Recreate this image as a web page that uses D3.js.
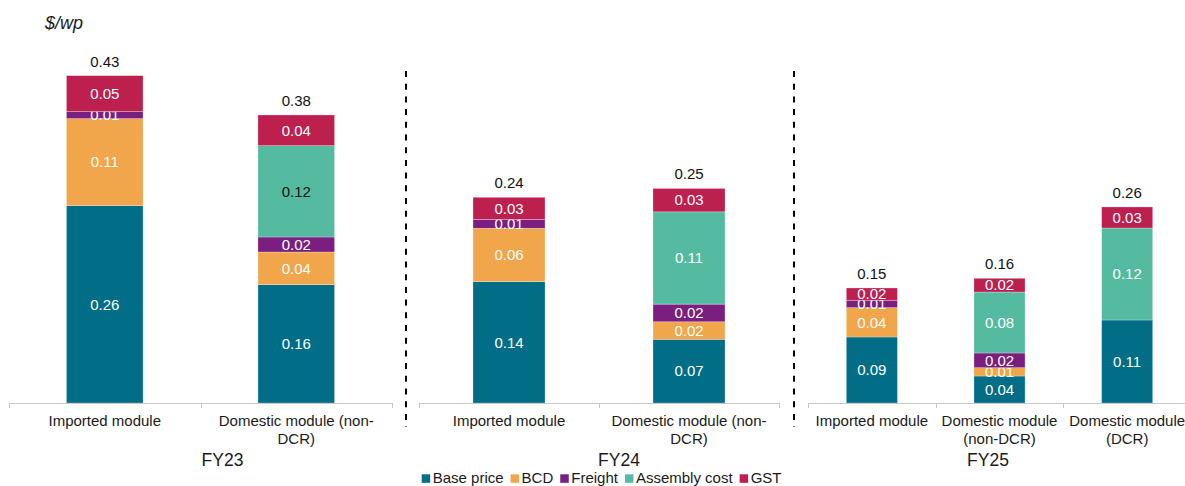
<!DOCTYPE html>
<html>
<head>
<meta charset="utf-8">
<script src="https://cdn.jsdelivr.net/npm/d3@7"></script>
<style>
  html, body { margin: 0; padding: 0; background: #fff; }
  svg { display: block; font-family: "Liberation Sans", Arial, sans-serif; }
</style>
</head>
<body>
<svg id="chart" width="1185" height="486"></svg>
<script>
// ---------------- DATA ----------------
const periods = ["FY23", "FY24", "FY25"];
const seriesNames = ["Base price", "BCD", "Freight", "Assembly cost", "GST"];
const barPeriods = ["FY23", "FY23", "FY24", "FY24", "FY25", "FY25", "FY25"];
const barCategories = [
  "Imported module", "Domestic module (non-\nDCR)",
  "Imported module", "Domestic module (non-\nDCR)",
  "Imported module", "Domestic module\n(non-DCR)", "Domestic module\n(DCR)"
];
const basePrice = [0.2590, 0.1552, 0.1415, 0.0743, 0.0866, 0.0354, 0.1089];
const bcd       = [0.1141, 0.0429, 0.0623, 0.0204, 0.0385, 0.0109, 0];
const freight   = [0.0092, 0.0197, 0.0104, 0.0206, 0.0097, 0.0193, 0];
const assembly  = [0,      0.1198, 0,      0.1076, 0,      0.0800, 0.1207];
const gst       = [0.0472, 0.0403, 0.0257, 0.0273, 0.0161, 0.0180, 0.0276];
const panelAxisMax = [0.45, 0.40, 0.45];

// ---------------- STYLE / LAYOUT ----------------
const colors = ["#016D86", "#F1A64B", "#7A1F7F", "#55BBA0", "#BD1F4F"];
const panelX = [[9, 392], [419, 779], [808, 1191]];
const baseY = 403, topY = 60;
const periodLabelX = [222.5, 619, 988];
const separatorsX = [406, 794];
const darkLabel = { bar: 1, series: 3 }; // one segment label drawn dark in source

const seriesValues = [basePrice, bcd, freight, assembly, gst];
const fmt = d3.format(".2f");
const svg = d3.select("#chart");

// y-axis unit label
svg.append("text").attr("x", 45).attr("y", 29)
  .attr("font-size", 18).attr("font-style", "italic").attr("fill", "#1a1a1a")
  .text("$/wp");

periods.forEach((p, pi) => {
  const idx = barPeriods.map((bp, i) => bp === p ? i : -1).filter(i => i >= 0);
  const x = d3.scaleBand().domain(idx).range(panelX[pi]).paddingInner(0.6).paddingOuter(0.3);
  const y = d3.scaleLinear().domain([0, panelAxisMax[pi]]).range([baseY, topY]);
  const g = svg.append("g");

  // stacked rows
  const rows = idx.map(i => {
    const r = { i };
    seriesNames.forEach((s, si) => r[s] = seriesValues[si][i]);
    return r;
  });
  const stacked = d3.stack().keys(seriesNames)(rows);

  stacked.forEach((layer, si) => {
    layer.forEach(d => {
      const v = d[1] - d[0];
      if (v <= 0) return;
      const bi = d.data.i;
      g.append("rect")
        .attr("x", x(bi)).attr("width", x.bandwidth())
        .attr("y", y(d[1])).attr("height", y(d[0]) - y(d[1]))
        .attr("fill", colors[si])
        .attr("stroke", "#ffffff").attr("stroke-opacity", 0.45).attr("stroke-width", 0.6);
      const dark = (bi === darkLabel.bar && si === darkLabel.series);
      g.append("text")
        .attr("x", x(bi) + x.bandwidth() / 2)
        .attr("y", (y(d[0]) + y(d[1])) / 2)
        .attr("dy", "0.35em")
        .attr("text-anchor", "middle")
        .attr("font-size", 15)
        .attr("fill", dark ? "#111" : "#ffffff")
        .text(fmt(v));
    });
  });

  // totals
  idx.forEach(bi => {
    const total = d3.sum(seriesValues, s => s[bi]);
    g.append("text")
      .attr("x", x(bi) + x.bandwidth() / 2)
      .attr("y", y(total) - 9)
      .attr("text-anchor", "middle")
      .attr("font-size", 15)
      .attr("fill", "#111")
      .text(fmt(total));
  });

  // axis
  const axis = d3.axisBottom(x).tickSize(0).tickFormat("");
  const ag = g.append("g").attr("transform", `translate(0,${baseY})`).call(axis);
  ag.select(".domain").attr("stroke", "#c8c8c8").attr("d", `M${panelX[pi][0]},0.5H${panelX[pi][1]}`);
  const bounds = [panelX[pi][0]].concat(idx.map(bi => x(bi) - x.step() * 0.3 + x.step()));
  bounds.forEach(bx => {
    ag.append("line").attr("x1", Math.round(bx) + 0.5).attr("x2", Math.round(bx) + 0.5)
      .attr("y1", 0).attr("y2", 5).attr("stroke", "#c8c8c8");
  });

  // category labels
  idx.forEach(bi => {
    const lines = barCategories[bi].split("\n");
    const t = g.append("text")
      .attr("x", x(bi) + x.bandwidth() / 2)
      .attr("y", 426)
      .attr("text-anchor", "middle")
      .attr("font-size", 15)
      .attr("fill", "#1a1a1a");
    lines.forEach((ln, li) => {
      t.append("tspan").attr("x", x(bi) + x.bandwidth() / 2)
        .attr("dy", li === 0 ? 0 : 18).text(ln);
    });
  });

  // period label
  g.append("text").attr("x", periodLabelX[pi]).attr("y", 466)
    .attr("text-anchor", "middle").attr("font-size", 17.5).attr("fill", "#1a1a1a")
    .text(p);
});

// separators
separatorsX.forEach(sx => {
  svg.append("line").attr("x1", sx).attr("x2", sx).attr("y1", 71).attr("y2", 427)
    .attr("stroke", "#000").attr("stroke-width", 2).attr("stroke-dasharray", "6,6.7");
});

// legend
const lg = svg.append("g");
let lx = 421.7;
seriesNames.forEach((s, si) => {
  lg.append("rect").attr("x", lx).attr("y", 474.3).attr("width", 8.5).attr("height", 8.5)
    .attr("fill", colors[si]);
  const t = lg.append("text").attr("x", lx + 11).attr("y", 483)
    .attr("font-size", 15).attr("fill", "#1a1a1a").text(s);
  lx += 11 + t.node().getComputedTextLength() + 7;
});
</script>
</body>
</html>
